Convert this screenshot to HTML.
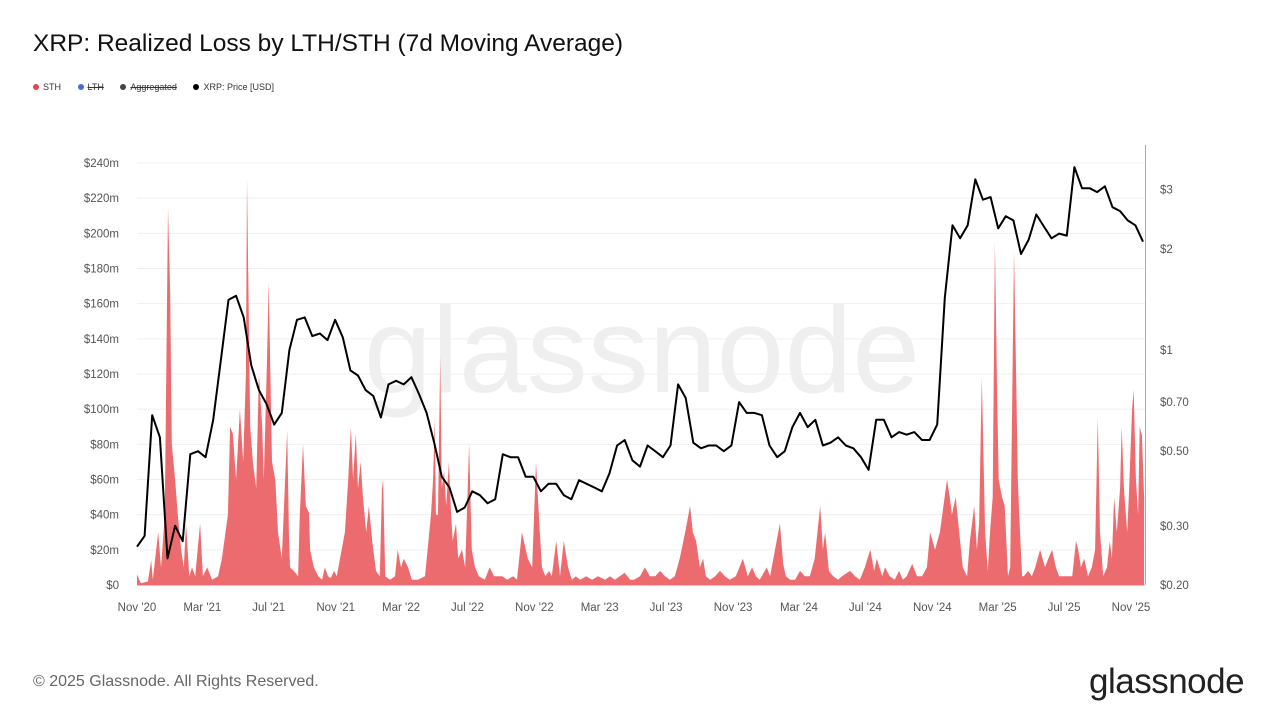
<!DOCTYPE html>
<html><head><meta charset="utf-8"><style>
body{margin:0;background:#fff;font-family:"Liberation Sans",sans-serif;}
#wrap{position:relative;width:1280px;height:720px;overflow:hidden;}
.t{position:absolute;white-space:nowrap}
</style></head><body>
<div id="wrap">
<div class="t" style="left:33px;top:30px;font-size:24.5px;color:#111">XRP: Realized Loss by LTH/STH (7d Moving Average)</div>
<div class="t" style="left:33px;top:82px;font-size:9px;color:#333">
<span><span style="display:inline-block;width:6px;height:6px;border-radius:3px;background:#e0474c;margin-right:4px"></span>STH</span>
<span style="margin-left:14px;text-decoration:line-through"><span style="display:inline-block;width:6px;height:6px;border-radius:3px;background:#4a6bd6;margin-right:4px"></span>LTH</span>
<span style="margin-left:14px;text-decoration:line-through"><span style="display:inline-block;width:6px;height:6px;border-radius:3px;background:#444;margin-right:4px"></span>Aggregated</span>
<span style="margin-left:14px"><span style="display:inline-block;width:6px;height:6px;border-radius:3px;background:#000;margin-right:4px"></span>XRP: Price [USD]</span>
</div>
<svg id="chart" width="1280" height="720" style="position:absolute;left:0;top:0"></svg>
<div class="t" style="left:33px;top:673px;font-size:16px;color:#666">© 2025 Glassnode. All Rights Reserved.</div>
<div class="t" style="left:1089px;top:662px;font-size:35px;color:#222;letter-spacing:-0.5px">glassnode</div>
</div>
<script>
const leftTicks=[0,20,40,60,80,100,120,140,160,180,200,220,240];
const rightTicks=[0.2,0.3,0.5,0.7,1,2,3];
const rightTickLabels=["$0.20","$0.30","$0.50","$0.70","$1","$2","$3"];
const xTickDays=[0,120,242,365,485,607,730,850,972,1095,1216,1338,1461,1581,1703,1826];
const xTickLabels=["Nov '20","Mar '21","Jul '21","Nov '21","Mar '22","Jul '22","Nov '22","Mar '23","Jul '23","Nov '23","Mar '24","Jul '24","Nov '24","Mar '25","Jul '25","Nov '25"];
const priceStepDays=14;
const price=[0.26,0.28,0.64,0.55,0.24,0.30,0.27,0.49,0.50,0.48,0.62,0.93,1.41,1.45,1.25,0.90,0.76,0.69,0.60,0.65,1.00,1.23,1.25,1.10,1.12,1.07,1.23,1.09,0.87,0.84,0.76,0.73,0.63,0.79,0.81,0.79,0.83,0.74,0.65,0.53,0.42,0.39,0.33,0.34,0.38,0.37,0.35,0.36,0.49,0.48,0.48,0.42,0.42,0.38,0.40,0.40,0.37,0.36,0.41,0.40,0.39,0.38,0.43,0.52,0.54,0.47,0.45,0.52,0.50,0.48,0.52,0.79,0.72,0.53,0.51,0.52,0.52,0.50,0.52,0.70,0.65,0.65,0.64,0.52,0.48,0.50,0.59,0.65,0.59,0.62,0.52,0.53,0.55,0.52,0.51,0.48,0.44,0.62,0.62,0.55,0.57,0.56,0.57,0.54,0.54,0.60,1.43,2.35,2.15,2.35,3.22,2.80,2.85,2.30,2.50,2.43,1.93,2.13,2.53,2.33,2.15,2.22,2.19,3.50,3.03,3.03,2.95,3.07,2.66,2.59,2.43,2.35,2.10];
const lossDays=[0,7,20,26,29,39,44,51,57,61,64,70,75,81,86,90,96,101,107,116,121,129,138,149,156,167,171,176,182,189,195,200,202,208,213,219,224,230,233,239,242,248,254,259,266,276,279,281,288,296,299,305,310,316,318,325,333,340,345,351,356,362,367,373,382,388,393,397,402,406,411,415,421,426,432,439,446,450,452,456,465,474,479,485,490,498,505,516,529,540,544,547,549,553,557,560,564,568,573,577,580,586,590,597,603,610,615,621,628,639,648,656,663,671,680,691,698,707,718,726,733,740,744,750,757,762,770,777,784,792,799,806,814,825,836,847,860,869,878,887,896,906,913,924,933,942,952,961,970,979,988,997,1007,1016,1021,1027,1034,1040,1045,1053,1062,1071,1080,1089,1100,1113,1122,1130,1137,1144,1157,1163,1172,1181,1187,1192,1200,1209,1218,1227,1236,1245,1255,1260,1264,1271,1279,1288,1295,1310,1319,1328,1337,1347,1354,1359,1369,1374,1383,1392,1400,1407,1414,1424,1433,1442,1451,1457,1466,1475,1488,1493,1497,1504,1512,1517,1525,1530,1538,1543,1547,1552,1558,1563,1567,1572,1576,1580,1583,1589,1594,1600,1604,1611,1615,1618,1622,1626,1629,1637,1644,1650,1659,1668,1674,1681,1688,1694,1703,1710,1718,1725,1729,1734,1740,1747,1754,1760,1765,1769,1775,1782,1787,1791,1795,1800,1806,1809,1813,1819,1822,1828,1831,1835,1839,1842,1846,1850];
const lossValues=[6,1,2,14,3,30,10,40,215,165,80,60,40,20,10,35,5,10,5,35,5,10,3,5,15,40,90,86,60,100,70,120,231,90,70,55,120,90,60,130,172,70,60,30,15,88,30,10,8,5,40,80,45,41,20,10,5,3,10,5,4,8,5,15,30,60,90,60,86,55,70,50,30,45,25,8,5,55,60,5,3,5,20,10,15,10,3,3,5,40,60,95,40,40,130,55,65,45,70,40,25,35,15,20,10,80,20,10,5,3,10,5,5,5,3,5,3,30,15,10,70,30,10,5,8,5,25,5,25,10,3,5,3,5,3,5,3,5,3,5,7,3,3,5,10,5,5,8,5,3,5,15,30,45,30,25,10,15,5,3,5,8,5,3,5,15,5,10,5,3,10,5,20,35,12,5,3,3,8,5,5,15,45,20,30,8,5,3,5,8,5,3,10,20,8,15,5,10,5,3,8,3,5,12,5,5,10,30,20,30,60,50,40,50,25,10,5,25,45,20,35,118,30,8,30,50,195,110,60,50,45,5,10,190,120,60,30,5,5,8,5,10,20,10,15,20,10,5,5,5,5,25,20,10,15,5,10,20,95,30,5,10,25,15,50,30,55,90,55,30,50,100,111,60,40,90,85,50];

const X0=137,PXD=994/1826,Y0=585,PXM=422/240,LOGK=146;
const xs=d=>X0+d*PXD;
const yl=v=>Y0-v*PXM;
const yr=p=>Y0-Math.log(p/0.2)*LOGK;
const NS='http://www.w3.org/2000/svg';
const svg=document.getElementById('chart');
function mk(tag,attrs){const e=document.createElementNS(NS,tag);for(const k in attrs)e.setAttribute(k,attrs[k]);svg.appendChild(e);return e;}
const wm=mk('text',{x:642,y:392,'text-anchor':'middle','font-size':122,fill:'#efefef','font-family':'Liberation Sans, sans-serif'});


wm.textContent='glassnode';
leftTicks.forEach(v=>{
  const g=mk('line',{x1:X0,x2:1145,y1:yl(v),y2:yl(v),stroke:'#efefef','stroke-width':1});
  
  
  const t=mk('text',{x:119,y:yl(v)+4,'text-anchor':'end','font-size':11.5,fill:'#555','font-family':'Liberation Sans, sans-serif'});
  
  
  t.textContent='$'+v+(v?'m':'');
});
rightTicks.forEach((p,i)=>{
  const t=mk('text',{x:1160,y:yr(p)+4,'font-size':11.5,fill:'#555','font-family':'Liberation Sans, sans-serif'});
  
  
  t.textContent=rightTickLabels[i];
});
xTickDays.forEach((d,i)=>{
  const t=mk('text',{x:xs(d),y:611,'text-anchor':'middle','font-size':11.5,fill:'#555','font-family':'Liberation Sans, sans-serif'});
  
  
  t.textContent=xTickLabels[i];
});
let dA='M'+xs(lossDays[0])+','+Y0;
lossDays.forEach((d,i)=>{dA+=' L'+xs(d).toFixed(1)+','+yl(lossValues[i]).toFixed(1);});
dA+=' L'+xs(lossDays[lossDays.length-1])+','+Y0+' Z';
const area=mk('path',{d:dA,fill:'#ec6b6e',stroke:'none'});


let dP='';
price.forEach((p,i)=>{dP+=(i?' L':'M')+xs(i*priceStepDays).toFixed(1)+','+yr(p).toFixed(1);});
const pl=mk('path',{d:dP,fill:'none',stroke:'#000','stroke-width':2,'stroke-linejoin':'round'});


const ax=mk('line',{x1:X0,x2:1145,y1:Y0+0.5,y2:Y0+0.5,stroke:'#ccc'});


const ra=mk('line',{x1:1145.5,x2:1145.5,y1:145,y2:Y0,stroke:'#aaa'});


</script>
</body></html>
